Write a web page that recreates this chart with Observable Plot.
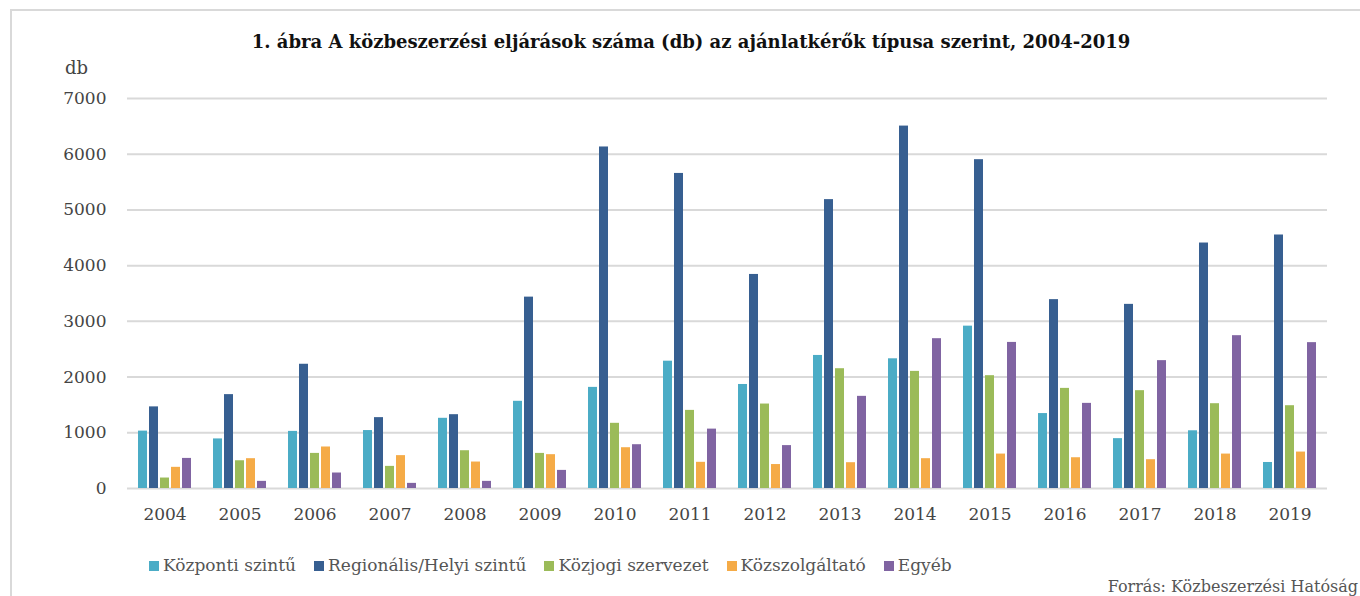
<!DOCTYPE html>
<html>
<head>
<meta charset="utf-8">
<script src="https://cdn.jsdelivr.net/npm/d3@7"></script>
<script src="https://cdn.jsdelivr.net/npm/@observablehq/plot@0.6"></script>
<style>
  html, body { margin: 0; padding: 0; background: #fff; width: 1360px; height: 596px; overflow: hidden; }
  body { position: relative; font-family: "DejaVu Serif", serif; }
  #frame { position: absolute; left: 10px; top: 9px; width: 1400px; height: 700px; border-top: 2px solid #d9d9d9; border-left: 2px solid #d9d9d9; }
  #title { position: absolute; left: 0; width: 1382px; top: 33px; text-align: center; font-weight: bold; font-size: 18px; color: #111; line-height: 1; }
  #unit { position: absolute; left: 65px; top: 59px; font-size: 18px; color: #444; line-height: 1; }
  #chart { position: absolute; left: 0; top: 0; }
  #legend { position: absolute; left: 149px; top: 557px; display: flex; font-size: 17px; color: #555; line-height: 1; }
  #legend .item { display: flex; align-items: center; margin-right: 18px; }
  #legend .sw { width: 10px; height: 10px; margin-right: 4px; }
  #source { position: absolute; right: 2px; top: 579px; font-size: 16px; color: #555; white-space: nowrap; line-height: 1; }
</style>
</head>
<body>
<div id="frame"></div>
<div id="chart"></div>
<div id="title">1. ábra A közbeszerzési eljárások száma (db) az ajánlatkérők típusa szerint, 2004-2019</div>
<div id="unit">db</div>
<div id="legend"></div>
<div id="source">Forrás: Közbeszerzési Hatóság</div>
<script>
const years = ["2004","2005","2006","2007","2008","2009","2010","2011","2012","2013","2014","2015","2016","2017","2018","2019"];
const series = ["Központi szintű","Regionális/Helyi szintű","Közjogi szervezet","Közszolgáltató","Egyéb"];
const colors = ["#4BACC6","#375F91","#9BBB59","#F5AB47","#8064A2"];
const kozponti   = [1030, 890, 1025, 1040, 1260, 1565, 1815, 2285, 1867, 2388, 2328, 2914, 1345, 895, 1036, 467];
const regionalis = [1465, 1685, 2230, 1272, 1325, 3435, 6130, 5655, 3842, 5185, 6505, 5902, 3390, 3305, 4406, 4550];
const kozjogi    = [188, 498, 630, 397, 678, 630, 1170, 1402, 1516, 2150, 2102, 2025, 1797, 1756, 1522, 1486];
const kozszolg   = [380, 535, 745, 590, 475, 607, 732, 470, 430, 463, 535, 618, 552, 517, 618, 654];
const egyeb      = [540, 128, 278, 92, 128, 325, 786, 1066, 770, 1654, 2689, 2622, 1528, 2295, 2743, 2618];
const yTicks = [0, 1000, 2000, 3000, 4000, 5000, 6000, 7000];

const valuesBySeries = [kozponti, regionalis, kozjogi, kozszolg, egyeb];
const data = [];
years.forEach((yr, i) => {
  series.forEach((s, j) => data.push({year: yr, series: s, value: valuesBySeries[j][i]}));
});

const chart = Plot.plot({
  width: 1360,
  height: 540,
  marginTop: 98,
  marginBottom: 52,
  marginLeft: 122,
  marginRight: 29,
  style: {fontFamily: "DejaVu Serif, serif", fontSize: "17px", color: "#444", background: "transparent"},
  fx: {domain: years, padding: 0, label: null, axis: null},
  x: {domain: series, paddingInner: 0.17, paddingOuter: 0.9, axis: null},
  y: {domain: [0, 7000], label: null, axis: null},
  color: {domain: series, range: colors},
  marks: [
    Plot.gridY(yTicks, {stroke: "#d9d9d9", strokeOpacity: 1, strokeWidth: 2}),
    Plot.barY(data, {fx: "year", x: "series", y: "value", fill: "series"}),
    Plot.axisY(yTicks, {tickSize: 0, tickPadding: 21, fontSize: 17, label: null, fill: "#444", tickFormat: d => String(d)}),
    Plot.axisFx({anchor: "bottom", tickSize: 0, tickPadding: 19, fontSize: 17, label: null, fill: "#444"})
  ]
});
document.getElementById("chart").appendChild(chart);

const legend = document.getElementById("legend");
series.forEach((s, j) => {
  const it = document.createElement("div");
  it.className = "item";
  const sw = document.createElement("div");
  sw.className = "sw";
  sw.style.background = colors[j];
  const t = document.createElement("span");
  t.textContent = s;
  it.appendChild(sw); it.appendChild(t);
  legend.appendChild(it);
});
</script>
</body>
</html>
